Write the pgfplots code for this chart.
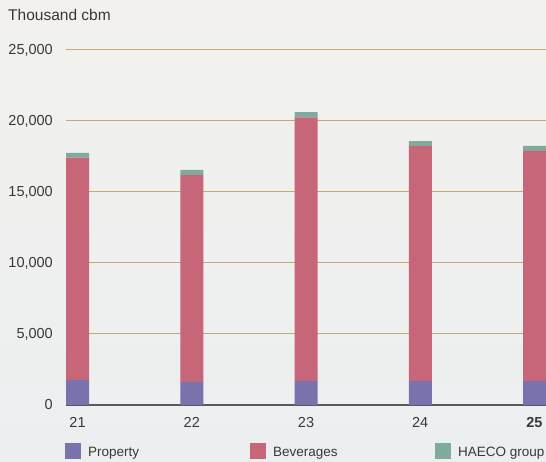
\documentclass[border=0pt]{standalone}
\usepackage{pgfplots}
\pgfplotsset{compat=1.18}
\usepackage{fontspec}
\setmainfont{Liberation Sans}

\definecolor{bgtop}{HTML}{F2F1ED}
\definecolor{bgbot}{HTML}{ECEFF0}
\definecolor{txt}{HTML}{383838}
\definecolor{gridtan}{HTML}{CBA776}
\definecolor{baseline}{HTML}{5A5A5A}
\definecolor{property}{HTML}{7A72AC}
\definecolor{beverages}{HTML}{C86679}
\definecolor{haeco}{HTML}{80AA9C}

% Thousand cbm, by year (21 ... 25)
\pgfplotstableread{
x property beverages haeco
0 1760 15660 330
1 1620 14580 350
2 1690 18570 370
3 1690 16550 350
4 1690 16200 350
}\volumes

\begin{document}
\begin{tikzpicture}
\shade[top color=bgtop, bottom color=bgbot] (0,0) rectangle (546bp,462bp);
\path[use as bounding box] (0,0) rectangle (546bp,462bp);
\node[anchor=base west, inner sep=0pt, text=txt,
      font=\fontsize{15.5bp}{18bp}\selectfont] at (8bp,441.3bp) {Thousand cbm};
\begin{axis}[
  at={(66bp,57bp)}, anchor=south west,
  scale only axis, width=480bp, height=355bp,
  xmin=-0.1007, xmax=4.1007, ymin=0, ymax=25000,
  ybar stacked, bar width=23bp,
  axis x line*=bottom, axis y line*=left,
  x axis line style={draw=baseline, line width=2bp, -},
  y axis line style={draw=none},
  major tick length=0pt,
  xtick={0,1,2,3,4},
  xticklabels={21,22,23,24,\textbf{25}},
  ytick={0,5000,10000,15000,20000,25000},
  ymajorgrids, grid style={draw=gridtan, line width=1bp},
  scaled y ticks=false,
  /pgf/number format/.cd, 1000 sep={,}, assume math mode=true, /pgfplots/.cd,
  tick label style={text=txt, font=\fontsize{14.5bp}{17bp}\selectfont, inner sep=0pt},
  yticklabel style={anchor=east, xshift=-13bp},
  xticklabel style={anchor=base, yshift=-22.7bp},
  legend columns=3,
  legend style={at={(axis description cs:0,0)}, anchor=north west,
    xshift=-1bp, yshift=-38bp, draw=none, fill=none, inner sep=0pt,
    font=\fontsize{13.5bp}{16bp}\selectfont, text=txt,
    nodes={inner sep=0pt}},
  legend image code/.code={%
    \fill[#1, draw=none] (0bp,-7bp) rectangle (16bp,9bp);
    \path (23bp,0bp);},
]
\addplot[fill=property, draw=none] table[x=x, y=property] {\volumes};
\addplot[fill=beverages, draw=none] table[x=x, y=beverages] {\volumes};
\addplot[fill=haeco, draw=none] table[x=x, y=haeco] {\volumes};
\legend{\makebox[162bp][l]{Property},\makebox[162bp][l]{Beverages},\makebox[100bp][l]{HAECO group}}
\end{axis}
\end{tikzpicture}
\end{document}
